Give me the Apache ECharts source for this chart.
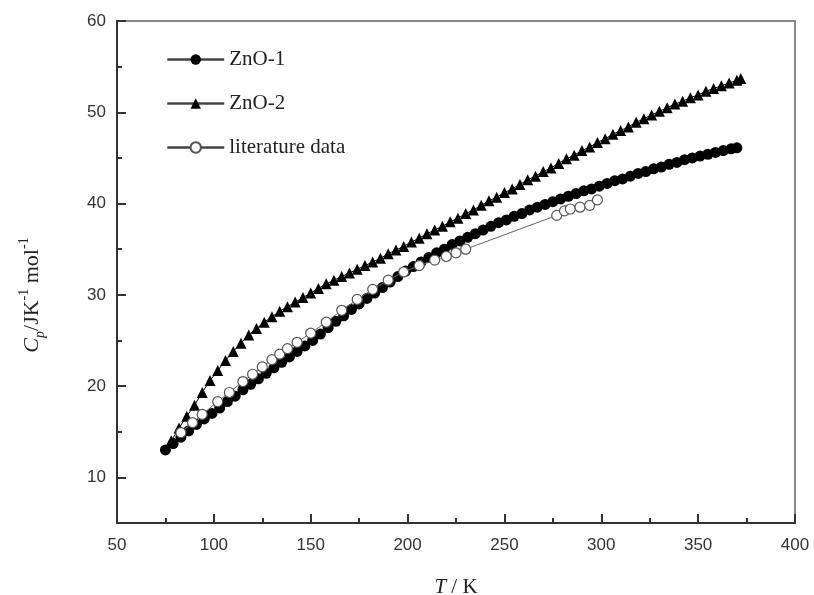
<!DOCTYPE html>
<html><head><meta charset="utf-8">
<script src="https://cdn.jsdelivr.net/npm/echarts@6/dist/echarts.min.js"></script>
<style>html,body{margin:0;padding:0;background:#fff}#c{width:814px;height:595px}</style>
</head><body><div id="c"></div>
<script>
// ZnO-1 (filled circles)
var zno1T = [75,79,83,87,91,95,99,103,107,111,115,119,123,127,131,135,139,143,147,151,155,159,163,167,171,175,179,183,187,191,195,199,203,207,211,215,219,223,227,231,235,239,243,247,251,255,259,263,267,271,275,279,283,287,291,295,299,303,307,311,315,319,323,327,331,335,339,343,347,351,355,359,363,367,370];
var zno1Cp = [13.0,13.7,14.4,15.1,15.8,16.4,17.0,17.6,18.3,18.9,19.6,20.2,20.8,21.4,22.0,22.6,23.2,23.8,24.4,25.0,25.7,26.4,27.1,27.7,28.4,29.0,29.6,30.2,30.8,31.4,32.0,32.6,33.1,33.6,34.1,34.6,35.0,35.5,35.9,36.3,36.7,37.1,37.5,37.9,38.2,38.6,38.9,39.3,39.6,39.9,40.2,40.5,40.8,41.1,41.4,41.6,41.9,42.2,42.5,42.7,43.0,43.3,43.5,43.8,44.0,44.3,44.5,44.8,45.0,45.2,45.4,45.6,45.8,46.0,46.1];
// ZnO-2 (filled triangles)
var zno2T = [78,82,86,90,94,98,102,106,110,114,118,122,126,130,134,138,142,146,150,154,158,162,166,170,174,178,182,186,190,194,198,202,206,210,214,218,222,226,230,234,238,242,246,250,254,258,262,266,270,274,278,282,286,290,294,298,302,306,310,314,318,322,326,330,334,338,342,346,350,354,358,362,366,370,372];
var zno2Cp = [14.0,15.4,16.7,17.9,19.3,20.6,21.7,22.8,23.8,24.7,25.6,26.3,27.0,27.6,28.2,28.7,29.2,29.7,30.2,30.7,31.2,31.6,32.0,32.4,32.8,33.2,33.6,34.0,34.5,34.9,35.3,35.8,36.2,36.7,37.1,37.5,38.0,38.4,38.9,39.3,39.8,40.3,40.7,41.2,41.6,42.1,42.6,43.0,43.5,43.9,44.4,44.9,45.3,45.8,46.2,46.7,47.1,47.6,48.0,48.4,48.9,49.3,49.7,50.1,50.5,50.9,51.2,51.6,51.9,52.3,52.6,52.9,53.2,53.5,53.7];
// literature data (open circles)
var litT = [83,89,94,102,108,115,120,125,130,134,138,143,150,158,166,174,182,190,198,206,214,220,225,230,277,281,284,289,294,298];
var litCp = [14.9,16.0,16.9,18.3,19.3,20.5,21.3,22.1,22.9,23.5,24.1,24.8,25.8,27.0,28.3,29.5,30.6,31.6,32.5,33.2,33.8,34.2,34.6,35.0,38.7,39.2,39.4,39.6,39.8,40.4];

var xTicks = [50,100,150,200,250,300,350,400];
var yMajor = [10,20,30,40,50,60];
var yMinor = [15,25,35,45,55];
var seriesNames = ['ZnO-1','ZnO-2','literature data'];

function pairs(a,b){return a.map(function(v,i){return [v,b[i]];});}

var chart = echarts.init(document.getElementById('c'), null, {renderer:'canvas'});
var serif = '"Liberation Serif","Times New Roman",serif';
var sans = '"Liberation Sans",Arial,sans-serif';
chart.setOption({
  animation:false,
  backgroundColor:'#fff',
  grid:{left:117,right:19,top:21,bottom:72,containLabel:false,outerBoundsMode:'none',show:true,borderColor:'#8a8a8a',borderWidth:2,backgroundColor:'transparent'},
  legend:{
    left:161, top:44, orient:'vertical', itemGap:23, itemWidth:57, itemHeight:13,
    data:seriesNames,
    textStyle:{fontFamily:serif,fontSize:21,color:'#222'},
    lineStyle:{width:2.5,color:'#444'}
  },
  xAxis:{
    type:'value', min:xTicks[0], max:xTicks[xTicks.length-1], interval:50,
    name:'{i|T} / K', nameLocation:'middle', nameGap:54,
    nameTextStyle:{fontFamily:serif,fontSize:21,color:'#222',rich:{i:{fontFamily:serif,fontStyle:'italic',fontSize:21,color:'#222'}}},
    axisLine:{lineStyle:{color:'#333',width:2}},
    axisTick:{inside:true,length:9,lineStyle:{color:'#333',width:2}},
    minorTick:{show:true,splitNumber:2,length:5,lineStyle:{color:'#333',width:2}},
    axisLabel:{fontFamily:sans,fontSize:17,color:'#333',margin:14},
    splitLine:{show:false}
  },
  yAxis:[{
    type:'value', min:5, max:60, position:'left',
    name:'{c|C}{p|p}{t|/JK}{s|-1}{t| mol}{s|-1}', nameLocation:'middle', nameRotate:90, nameGap:70,
    nameTextStyle:{padding:[0,46,0,0],rich:{
      c:{fontFamily:serif,fontStyle:'italic',fontSize:22,color:'#222',lineHeight:30,verticalAlign:'middle'},
      p:{fontFamily:serif,fontStyle:'italic',fontSize:14,color:'#222',lineHeight:14,verticalAlign:'bottom'},
      t:{fontFamily:serif,fontSize:22,color:'#222',lineHeight:30,verticalAlign:'middle'},
      s:{fontFamily:serif,fontSize:14,color:'#222',lineHeight:14,verticalAlign:'top'}
    }},
    axisLine:{lineStyle:{color:'#333',width:2}},
    axisTick:{inside:true,length:9,customValues:yMajor,lineStyle:{color:'#333',width:2}},
    axisLabel:{fontFamily:sans,fontSize:17,color:'#333',margin:11,customValues:yMajor},
    splitLine:{show:false}
  },{
    type:'value', min:5, max:60, position:'left', offset:0,
    axisLine:{show:false},
    axisTick:{inside:true,length:5,customValues:yMinor,lineStyle:{color:'#333',width:2}},
    axisLabel:{show:false},
    splitLine:{show:false}
  }],
  series:[
    {name:seriesNames[1], type:'line', data:pairs(zno2T,zno2Cp), symbol:'triangle', symbolSize:11, z:2,
     itemStyle:{color:'#000'}, lineStyle:{color:'#000',width:1}},
    {name:seriesNames[0], type:'line', data:pairs(zno1T,zno1Cp), symbol:'circle', symbolSize:11, z:3,
     itemStyle:{color:'#000'}, lineStyle:{color:'#000',width:1}},
    {name:seriesNames[2], type:'line', data:pairs(litT,litCp), symbol:'circle', symbolSize:10, z:4,
     itemStyle:{color:'#fff',borderColor:'#555',borderWidth:1.2}, lineStyle:{color:'#666',width:1}}
  ]
});
</script>
</body></html>
